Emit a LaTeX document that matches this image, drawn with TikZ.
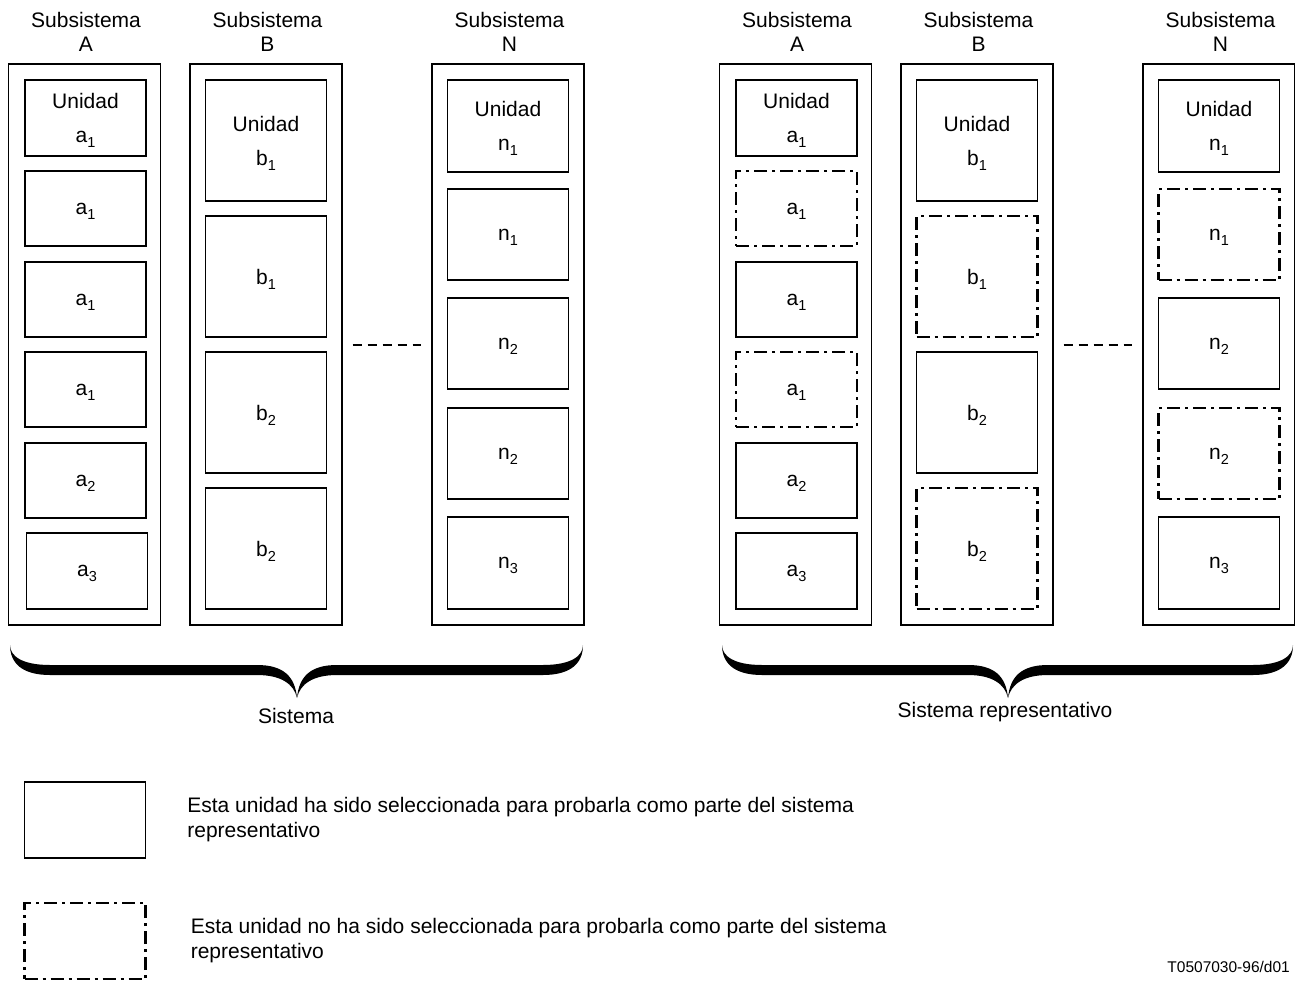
\documentclass[tikz,border=0pt]{standalone}
\usepackage{fontspec}
\setmainfont{Liberation Sans}
\usepackage{tikz}
\usetikzlibrary{positioning}
\newcommand{\unitsub}[1]{\raisebox{-5pt}[\height][0pt]{\fontsize{14.5}{14.5}\selectfont #1}}
\tikzstyle{unit}=[rectangle,draw,line width=1.3pt,minimum width=121pt,inner sep=0pt,align=center,font=\fontsize{21}{34}\selectfont]
\tikzstyle{unsel}=[unit,line width=2.2pt,dash pattern=on 13pt off 5pt on 3pt off 5pt]
\tikzstyle{subsys}=[rectangle,draw,line width=1.3pt,minimum width=152pt,minimum height=561pt,inner sep=0pt]
\tikzstyle{title}=[align=center,inner sep=0pt,font=\fontsize{21}{24}\selectfont]
\tikzstyle{gapline}=[draw,line width=2pt,dash pattern=on 9pt off 6pt]
\tikzstyle{legend}=[align=left,inner sep=0pt,font=\fontsize{21}{25}\selectfont]
% thick curly brace under a system: left end, tip, right end
\newcommand{\sysbrace}[3]{%
  \fill (#1,645) .. controls (#1,663) and (#1+12,675) .. (#1+40,675)
     -- (#2-40,675) .. controls (#2-16,675) and (#2-3,684) .. (#2,698)
     .. controls (#2+3,684) and (#2+16,675) .. (#2+40,675)
     -- (#3-40,675) .. controls (#3-12,675) and (#3,663) .. (#3,645)
     .. controls (#3,656) and (#3-12,665) .. (#3-40,665)
     -- (#2+40,665) .. controls (#2+14,665) and (#2+2,676) .. (#2,698)
     .. controls (#2-2,676) and (#2-14,665) .. (#2-40,665)
     -- (#1+40,665) .. controls (#1+12,665) and (#1,656) .. (#1,645) -- cycle;}

\begin{document}
\begin{tikzpicture}[x=1pt,y=-1pt]
\useasboundingbox (0,0) rectangle (1295,982);

%sistema
    \def\base{0}
    \foreach \name/\cx in {A/84.5, B/266, N/508}
    {
        \node[subsys] (s\name) at (\base+\cx,344.5) {};
        \node[title] (st\name) at (\base+\cx+1.5,32) {Subsistema\\\name};
    }
    \foreach \cx/\cy/\h/\name/\st/\lab in {85.5/118/76/A1/unit/{Unidad\\a\unitsub{1}}, 85.5/208.5/75/A2/unit/a\unitsub{1}, 85.5/299.5/75/A3/unit/a\unitsub{1}, 85.5/389.5/75/A4/unit/a\unitsub{1}, 85.5/480.5/75/A5/unit/a\unitsub{2}, 87/571/76/A6/unit/a\unitsub{3}}
        \node[\st,minimum height=\h] (s\name) at (\base+\cx,\cy) {\lab};
    \foreach \cx/\cy/\h/\name/\st/\lab in {266/140.5/121/B1/unit/{Unidad\\b\unitsub{1}}, 266/276.5/121/B2/unit/b\unitsub{1}, 266/412.5/121/B3/unit/b\unitsub{2}, 266/548.5/121/B4/unit/b\unitsub{2}}
        \node[\st,minimum height=\h] (s\name) at (\base+\cx,\cy) {\lab};
    \foreach \cx/\cy/\h/\name/\st/\lab in {508/126/92/N1/unit/{Unidad\\n\unitsub{1}}, 508/234.5/91/N2/unit/n\unitsub{1}, 508/343.5/91/N3/unit/n\unitsub{2}, 508/453.5/91/N4/unit/n\unitsub{2}, 508/563/92/N5/unit/n\unitsub{3}}
        \node[\st,minimum height=\h] (s\name) at (\base+\cx,\cy) {\lab};
    \path[gapline] ([xshift=10pt]sB.east) -- ([xshift=-10pt]sN.west);
    \sysbrace{10}{297}{583}
    \node[title] (ssys) at (296,716) {Sistema};

%sistema representativo
    \def\base{711}
    \foreach \name/\cx in {A/84.5, B/266, N/508}
    {
        \node[subsys] (r\name) at (\base+\cx,344.5) {};
        \node[title] (rt\name) at (\base+\cx+1.5,32) {Subsistema\\\name};
    }
    \foreach \cx/\cy/\h/\name/\st/\lab in {85.5/118/76/A1/unit/{Unidad\\a\unitsub{1}}, 85.5/208.5/75/A2/unsel/a\unitsub{1}, 85.5/299.5/75/A3/unit/a\unitsub{1}, 85.5/389.5/75/A4/unsel/a\unitsub{1}, 85.5/480.5/75/A5/unit/a\unitsub{2}, 85.5/571/76/A6/unit/a\unitsub{3}}
        \node[\st,minimum height=\h] (r\name) at (\base+\cx,\cy) {\lab};
    \foreach \cx/\cy/\h/\name/\st/\lab in {266/140.5/121/B1/unit/{Unidad\\b\unitsub{1}}, 266/276.5/121/B2/unsel/b\unitsub{1}, 266/412.5/121/B3/unit/b\unitsub{2}, 266/548.5/121/B4/unsel/b\unitsub{2}}
        \node[\st,minimum height=\h] (r\name) at (\base+\cx,\cy) {\lab};
    \foreach \cx/\cy/\h/\name/\st/\lab in {508/126/92/N1/unit/{Unidad\\n\unitsub{1}}, 508/234.5/91/N2/unsel/n\unitsub{1}, 508/343.5/91/N3/unit/n\unitsub{2}, 508/453.5/91/N4/unsel/n\unitsub{2}, 508/563/92/N5/unit/n\unitsub{3}}
        \node[\st,minimum height=\h] (r\name) at (\base+\cx,\cy) {\lab};
    \path[gapline] ([xshift=10pt]rB.east) -- ([xshift=-10pt]rN.west);
    \sysbrace{722}{1008}{1293}
    \node[title] (rsys) at (1005,712) {Sistema representativo};

%leyenda
    \node[unit,minimum height=76] (legsel) at (85,820) {};
    \node[legend,right=41pt of legsel] (legseltxt) {Esta unidad ha sido seleccionada para probarla como parte del sistema\\representativo};
    \node[unsel,minimum height=76] (legnot) at (85,941) {};
    \node[legend,right=44pt of legnot] (legnottxt) {Esta unidad no ha sido seleccionada para probarla como parte del sistema\\representativo};

    \node[anchor=east,inner sep=0pt,font=\fontsize{15.5}{18}\selectfont] (code) at (1290,967) {T0507030-96/d01};

\end{tikzpicture}
\end{document}
